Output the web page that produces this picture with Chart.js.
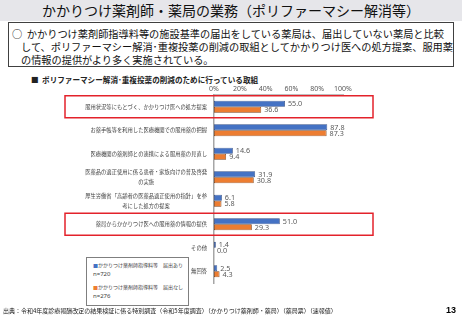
<!DOCTYPE html>
<html><head><meta charset="utf-8">
<script src="https://cdn.jsdelivr.net/npm/chart.js@4.4.1/dist/chart.umd.min.js"></script>
<style>
html,body{margin:0;padding:0;background:#fff;}
body{width:462px;height:320px;position:relative;overflow:hidden;font-family:"Noto Sans CJK JP","Noto Sans",sans-serif;}
#title{position:absolute;left:0;top:0;width:462px;height:21px;background:#e6e6ea;text-align:center;font-size:14px;line-height:21px;color:#111;white-space:nowrap;}
#box{position:absolute;left:8px;top:22px;width:444px;height:43px;border:1px solid #404040;}
.bl{position:absolute;font-size:10.2px;white-space:nowrap;color:#111;line-height:12px;}
#sub{position:absolute;left:31px;top:75px;font-size:7.6px;font-weight:bold;white-space:nowrap;color:#222;line-height:10px;}
canvas{position:absolute;left:0;top:0;}
#legend{position:absolute;left:86px;top:257px;width:101px;height:47px;border:1px solid #7f7f7f;background:#fff;}
.lg{position:absolute;left:6px;font-size:5px;white-space:nowrap;color:#404040;line-height:6px;}
#src{position:absolute;left:3px;top:307px;font-size:6px;white-space:nowrap;color:#222;line-height:8px;}
#page{position:absolute;left:446px;top:305px;font-size:9px;font-weight:bold;line-height:11px;font-family:"Liberation Sans",sans-serif;}
</style>
</head>
<body>
<div id="title">かかりつけ薬剤師・薬局の業務（ポリファーマシー解消等）</div>
<div id="box">
  <div class="bl" style="left:3px;top:5px;">○&nbsp;&nbsp;かかりつけ薬剤師指導料等の施設基準の届出をしている薬局は、届出していない薬局と比較</div>
  <div class="bl" style="left:12px;top:18px;">して、ポリファーマシー解消･重複投薬の削減の取組としてかかりつけ医への処方提案、服用薬</div>
  <div class="bl" style="left:12px;top:31px;">の情報の提供がより多く実施されている。</div>
</div>
<div id="sub">■&nbsp;&nbsp;ポリファーマシー解消･重複投薬の削減のために行っている取組</div>
<canvas id="c" width="462" height="320"></canvas>
<div id="legend"></div>
<div id="src">出典：令和4年度診療報酬改定の結果検証に係る特別調査（令和5年度調査）（かかりつけ薬剤師・薬局）（薬局票）（速報値）</div>
<div id="page">13</div>
<script>
const categories = [
  ['服用状況等にもとづく、かかりつけ医への処方提案'],
  ['お薬手帳等を利用した医療機関での服用薬の把握'],
  ['医療機関の薬剤師との連携による服用薬の見直し'],
  ['医薬品の適正使用に係る患者・家族向けの普及啓発','の実施'],
  ['厚生労働省「高齢者の医薬品適正使用の指針」を参','考にした処方の提案'],
  ['薬局からかかりつけ医への服用薬の情報の提供'],
  ['その他'],
  ['無回答']
];
const seriesWith = [55.0, 87.8, 14.6, 31.9, 6.1, 51.0, 1.4, 2.5];
const seriesWithout = [36.6, 87.3, 9.4, 30.8, 5.8, 29.3, 0.0, 4.3];
const seriesNames = ['かかりつけ薬剤師指導料等　届出あり', 'かかりつけ薬剤師指導料等　届出なし'];
const seriesN = ['n=720', 'n=276'];
const xTickValues = [0, 20, 40, 60, 80, 100];
const highlighted = [0, 5];

const colors = ['#4472c4', '#ed7d31'];
const borders = ['#2c4a85', '#7a3c10'];
const JP = '"Noto Sans CJK JP", "Noto Sans", sans-serif';

const lg = document.getElementById('legend');
const tops = [[4, 13], [26, 35]];
seriesNames.forEach((n, i) => {
  const a = document.createElement('div');
  a.className = 'lg'; a.style.top = tops[i][0] + 'px';
  a.innerHTML = '<span style="color:' + colors[i] + '">■</span>' + n;
  lg.appendChild(a);
  const b = document.createElement('div');
  b.className = 'lg'; b.style.top = tops[i][1] + 'px'; b.style.fontSize = '6px';
  b.style.fontFamily = '"Noto Sans", sans-serif';
  b.textContent = seriesN[i];
  lg.appendChild(b);
});

const extras = {
  id: 'extras',
  afterDatasetsDraw(chart) {
    const ctx = chart.ctx;
    ctx.save();
    ctx.textBaseline = 'middle';
    ctx.textAlign = 'left';
    ctx.font = '7.2px "Noto Sans", sans-serif';
    ctx.fillStyle = '#595959';
    chart.data.datasets.forEach((ds, i) => {
      const meta = chart.getDatasetMeta(i);
      meta.data.forEach((bar, j) => {
        ctx.fillText(ds.data[j].toFixed(1), bar.x + 3, bar.y + 0.5);
      });
    });
    const ys = chart.scales.y;
    const right = chart.chartArea.left - 7;
    ctx.font = '5.3px ' + JP;
    ctx.fillStyle = '#404040';
    ctx.textAlign = 'center';
    categories.forEach((lines, j) => {
      const yc = ys.getPixelForValue(j);
      const w = Math.max(...lines.map(l => ctx.measureText(l).width));
      const cx = right - w / 2;
      const lh = 10;
      lines.forEach((l, k) => {
        ctx.fillText(l, cx, yc + (k - (lines.length - 1) / 2) * lh);
      });
    });
    ctx.strokeStyle = '#e3222b';
    ctx.lineWidth = 1.5;
    highlighted.forEach(j => {
      const yc = ys.getPixelForValue(j);
      ctx.strokeRect(65, yc - 11, 308, 22);
    });
    ctx.restore();
  }
};

new Chart(document.getElementById('c'), {
  type: 'bar',
  data: {
    labels: categories.map(c => c.join('')),
    datasets: seriesNames.map((n, i) => ({
      label: n,
      data: i === 0 ? seriesWith : seriesWithout,
      backgroundColor: colors[i],
      borderColor: borders[i],
      borderWidth: 0.8,
      borderSkipped: false
    }))
  },
  options: {
    indexAxis: 'y',
    responsive: false,
    animation: false,
    devicePixelRatio: 1,
    layout: { padding: { left: 214, right: 119, top: 81, bottom: 37 } },
    plugins: { legend: { display: false }, tooltip: { enabled: false } },
    datasets: { bar: { categoryPercentage: 0.52, barPercentage: 1 } },
    scales: {
      x: {
        position: 'top', min: 0, max: 100,
        afterFit: s => { s.height = 14; },
        afterBuildTicks: s => { s.ticks = xTickValues.map(v => ({ value: v })); },
        ticks: { callback: v => v + '%', font: { size: 7, family: '"Noto Sans", sans-serif' }, color: '#595959', padding: 2, maxRotation: 0, autoSkip: false },
        grid: { display: false, drawTicks: false },
        border: { display: true, color: '#bfbfbf', width: 2 }
      },
      y: {
        afterFit: s => { s.width = 0; },
        ticks: { display: false },
        grid: { display: false, drawTicks: false },
        border: { display: true, color: '#a6a6a6', width: 1.5 }
      }
    }
  },
  plugins: [extras]
});
</script>
</body></html>
